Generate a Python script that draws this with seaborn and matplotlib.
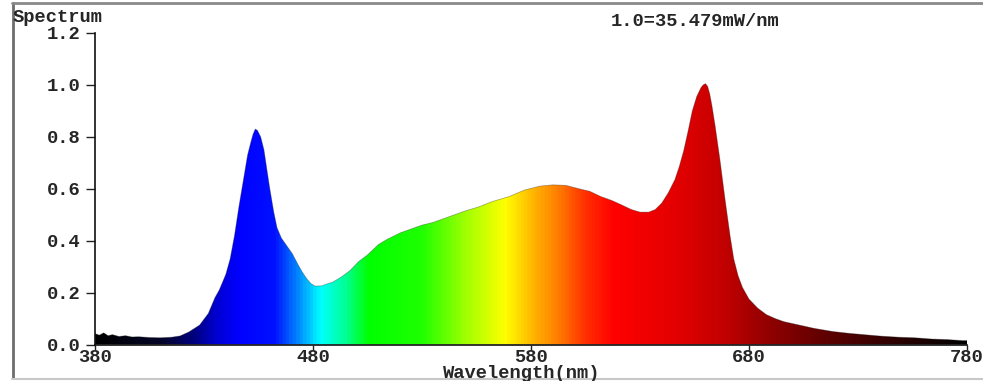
import numpy as np
import pandas as pd
import matplotlib
matplotlib.use("Agg")
import matplotlib.pyplot as plt
from matplotlib.colors import LinearSegmentedColormap, Normalize
from matplotlib.lines import Line2D
import seaborn as sns

# Relative spectral power (1.0 = 35.479 mW/nm)
wavelength = [380, 382, 384, 386, 388, 391, 394, 397, 400, 405, 410, 415, 419,
              423, 428, 432, 435, 437, 440, 442, 444, 446, 448, 450, 451.5,
              452.5, 453.5, 454.5, 456, 457.5, 460, 462, 463.5, 465.5, 468,
              470.5, 473, 475, 477, 479, 481, 484, 487, 489, 493, 497, 501,
              505, 510, 514, 520, 525, 530, 535, 540, 545, 550, 556, 562, 570,
              577, 584, 590, 596, 602, 607, 612, 617, 621, 626, 630, 634, 637,
              640, 643, 646, 648, 650, 652, 654, 656, 658, 659, 660, 661, 662,
              663, 664.5, 666.7, 669, 671.3, 673, 675, 677, 680, 684, 688,
              692, 696, 703, 710, 718.5, 726, 734, 741, 749, 756, 764, 771,
              778, 780]
intensity = [0.042, 0.036, 0.045, 0.034, 0.038, 0.031, 0.034, 0.029, 0.030,
             0.027, 0.026, 0.028, 0.033, 0.048, 0.075, 0.12, 0.18, 0.21, 0.27,
             0.33, 0.42, 0.53, 0.63, 0.73, 0.78, 0.81, 0.83, 0.825, 0.80,
             0.75, 0.61, 0.51, 0.45, 0.41, 0.38, 0.35, 0.31, 0.28, 0.255,
             0.235, 0.225, 0.226, 0.235, 0.24, 0.26, 0.285, 0.32, 0.345,
             0.385, 0.405, 0.43, 0.445, 0.46, 0.47, 0.485, 0.50, 0.515, 0.53,
             0.55, 0.57, 0.595, 0.61, 0.615, 0.613, 0.60, 0.59, 0.57, 0.555,
             0.54, 0.52, 0.51, 0.51, 0.52, 0.545, 0.585, 0.635, 0.685, 0.745,
             0.82, 0.90, 0.955, 0.99, 1.0, 1.005, 0.995, 0.965, 0.92, 0.84,
             0.71, 0.56, 0.42, 0.33, 0.265, 0.22, 0.175, 0.14, 0.115, 0.1,
             0.088, 0.075, 0.062, 0.05, 0.043, 0.037, 0.032, 0.028, 0.026,
             0.021, 0.019, 0.015, 0.015]

# Visible-spectrum colour stops used for the fill gradient
stop_nm = [380, 410, 425, 435, 445, 462, 472, 483, 495, 505, 530, 550, 568,
           582, 592, 605, 618, 650, 670, 690, 715, 740, 765, 780]
stop_rgb = ["#000000", "#05052a", "#000080", "#0000d0", "#0000ff", "#0010ff",
            "#0080ff", "#00ffff", "#00ff90", "#00ff00", "#20ff00", "#a0ff00",
            "#ffff00", "#ffb000", "#ff8000", "#ff3000", "#ff0000", "#e00000",
            "#c00000", "#900000", "#600000", "#380000", "#150000", "#000000"]

x_ticks = [380, 480, 580, 680, 780]
y_ticks = [0.0, 0.2, 0.4, 0.6, 0.8, 1.0, 1.2]

df = pd.DataFrame({"Wavelength": wavelength, "Intensity": intensity})

sns.set_theme(style="white")
mono = {"family": "Liberation Mono", "weight": "bold"}
plt.rcParams["font.family"] = ["Liberation Mono", "DejaVu Sans Mono"]
FS = 13.5

W, H = 983, 381
fig = plt.figure(figsize=(W / 100, H / 100), dpi=100)
ax = fig.add_axes([95 / W, 1 - 344.5 / H, (967 - 95) / W, (344.5 - 33) / H])

# Spectrum shape, used as the clip region for the colour gradient
poly = ax.fill_between(df["Wavelength"], df["Intensity"], 0, color="none", lw=0)

lo, hi = stop_nm[0], stop_nm[-1]
cmap = LinearSegmentedColormap.from_list(
    "visible", [((n - lo) / (hi - lo), c) for n, c in zip(stop_nm, stop_rgb)])
grad = np.linspace(lo, hi, 1200)[None, :]
im = ax.imshow(grad, cmap=cmap, norm=Normalize(lo, hi), aspect="auto",
               extent=[lo, hi, 0, 1.2], origin="lower", interpolation="bilinear")
im.set_clip_path(poly.get_paths()[0], transform=ax.transData)

sns.lineplot(data=df, x="Wavelength", y="Intensity", ax=ax, color="#202020",
             lw=0.6, alpha=0.35)

ax.set_xlim(380, 780)
ax.set_ylim(0, 1.2)
ax.set_xticks(x_ticks)
ax.set_xticklabels([str(v) for v in x_ticks], fontdict=mono, fontsize=FS)
ax.set_yticks(y_ticks)
ax.set_yticklabels([f"{v:.1f}" for v in y_ticks], fontdict=mono, fontsize=FS)
ax.set_xlabel("")
ax.set_ylabel("")
ax.tick_params(axis="y", direction="out", length=6.5, width=1, color="#222222",
               pad=4, left=True)
ax.tick_params(axis="x", direction="out", length=3.5, width=1, color="#222222",
               pad=-0.5, bottom=True)
for side in ("top", "right"):
    ax.spines[side].set_visible(False)
for side in ("left", "bottom"):
    ax.spines[side].set_visible(True)
    ax.spines[side].set_color("#111111")
    ax.spines[side].set_linewidth(1.2)

fig.text(13 / W, 1 - 18 / H, "Spectrum", ha="left", va="center",
         fontsize=FS, **mono)
fig.text(695 / W, 1 - 22 / H, "1.0=35.479mW/nm", ha="center", va="center",
         fontsize=FS, **mono)
fig.text(522 / W, 1 - 373 / H, "Wavelength(nm)", ha="center", va="center",
         fontsize=FS, **mono)

# Outer frame
fig.add_artist(Line2D([12.5 / W, 12.5 / W], [1 - 3 / H, 1 - 378 / H],
                      transform=fig.transFigure, color="#6e6e6e", lw=2))
fig.add_artist(Line2D([12 / W, 1], [1 - 2.5 / H, 1 - 2.5 / H],
                      transform=fig.transFigure, color="#8a8a8a", lw=2))
fig.add_artist(Line2D([12 / W, 1], [1 - 379 / H, 1 - 379 / H],
                      transform=fig.transFigure, color="#c8c8c8", lw=1.5))

fig.savefig("out.png", dpi=100, facecolor="white")
